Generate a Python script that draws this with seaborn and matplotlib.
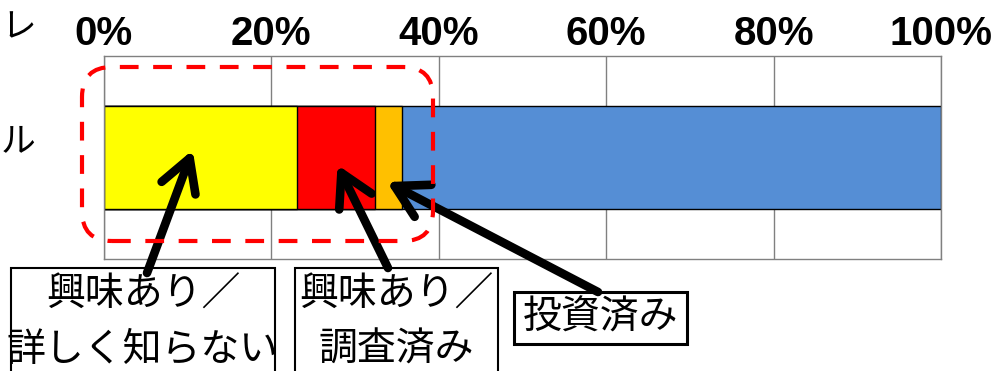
import numpy as np
import matplotlib
matplotlib.use("Agg")
import matplotlib.pyplot as plt
import seaborn as sns
from matplotlib.patches import FancyBboxPatch, Rectangle
from matplotlib.transforms import IdentityTransform

# Shares of respondents (percent), left to right along the bar
segments = ["興味あり／詳しく知らない", "興味あり／調査済み", "投資済み", "興味なし"]
shares = [23.1, 9.3, 3.2, 64.4]
colors = ["#FFFF00", "#FF0000", "#FFC000", "#558ED5"]
ticks = [0, 20, 40, 60, 80, 100]
tick_labels = ["0%", "20%", "40%", "60%", "80%", "100%"]
group = "全体"

sns.set_theme(style="white")
plt.rcParams["font.family"] = ["Noto Sans CJK JP", "DejaVu Sans"]

W, H = 992, 371
fig = plt.figure(figsize=(W / 100, H / 100), dpi=100)
ax = fig.add_axes([104 / W, 1 - 259 / H, (941 - 104) / W, (259 - 56) / H])

# Stacked bar: draw cumulative totals from the longest down to the shortest
cum = np.cumsum(shares)
for i in range(len(shares) - 1, -1, -1):
    sns.barplot(x=[cum[i]], y=[group], color=colors[i], width=0.51,
                edgecolor="black", linewidth=1, saturation=1, orient="h",
                ax=ax, zorder=2)

ax.set_xlim(0, 100)
ax.set_ylim(0.5, -0.5)
ax.set_xlabel("")
ax.set_ylabel("")
ax.set_yticks([])
ax.xaxis.tick_top()
ax.set_xticks(ticks)
ax.set_xticklabels(tick_labels, fontfamily="Liberation Sans",
                   fontweight="bold", fontsize=29, color="black")
ax.tick_params(axis="x", length=0, pad=2)
ax.grid(axis="x", color="#808080", lw=1)
ax.set_axisbelow(True)
for sp in ax.spines.values():
    sp.set_visible(True)
    sp.set_color("#808080")
    sp.set_linewidth(1)

pix = IdentityTransform()

def py(y):
    return H - y

# Row labels at the left edge
fig.text(1, py(142), "ル", transform=pix, fontsize=25, va="center",
         ha="left", color="black")
fig.text(1, py(28), "レ", transform=pix, fontsize=25, va="center",
         ha="left", color="black")

# Dashed highlight around the interested groups
hl = FancyBboxPatch((82, py(241)), 433 - 82, 241 - 67,
                    boxstyle="round,pad=0,rounding_size=30", transform=pix,
                    fill=False, ec="#FF0000", lw=3, ls=(0, (4.5, 3.5)),
                    zorder=6)
fig.add_artist(hl)

# Callout boxes
boxes = [
    (11, 268, 275, 385, 1.5),
    (295, 268, 498, 385, 1.5),
    (514, 292, 687, 344, 2.2),
]
for x0, y0, x1, y1, lw in boxes:
    fig.add_artist(Rectangle((x0, py(y1)), x1 - x0, y1 - y0, transform=pix,
                             fill=False, ec="black", lw=lw, zorder=6))

label_lines = [
    (143, 295, "興味あり／"),
    (143, 350, "詳しく知らない"),
    (396, 295, "興味あり／"),
    (396, 350, "調査済み"),
    (600, 318, "投資済み"),
]
for x, y, s in label_lines:
    fig.text(x, py(y), s, transform=pix, fontsize=28, ha="center",
             va="center", color="black", zorder=7)

# Arrows from each callout to its segment
def to_data_y(y_img):
    return (y_img - 157.5) / 203

arrows = [
    ((10.6, to_data_y(150)), (147, py(273))),
    ((27.9, to_data_y(165)), (388, py(268))),
    ((33.8, to_data_y(182)), (598, py(292))),
]
for tip, tail in arrows:
    ax.annotate("", xy=tip, xycoords="data", xytext=tail,
                textcoords="figure pixels", annotation_clip=False,
                arrowprops=dict(arrowstyle="->,head_length=1.15,head_width=0.65",
                                mutation_scale=20, lw=6.2, color="black",
                                shrinkA=0, shrinkB=0, capstyle="round",
                                joinstyle="round"),
                zorder=8)

fig.savefig("out.png", dpi=100)
